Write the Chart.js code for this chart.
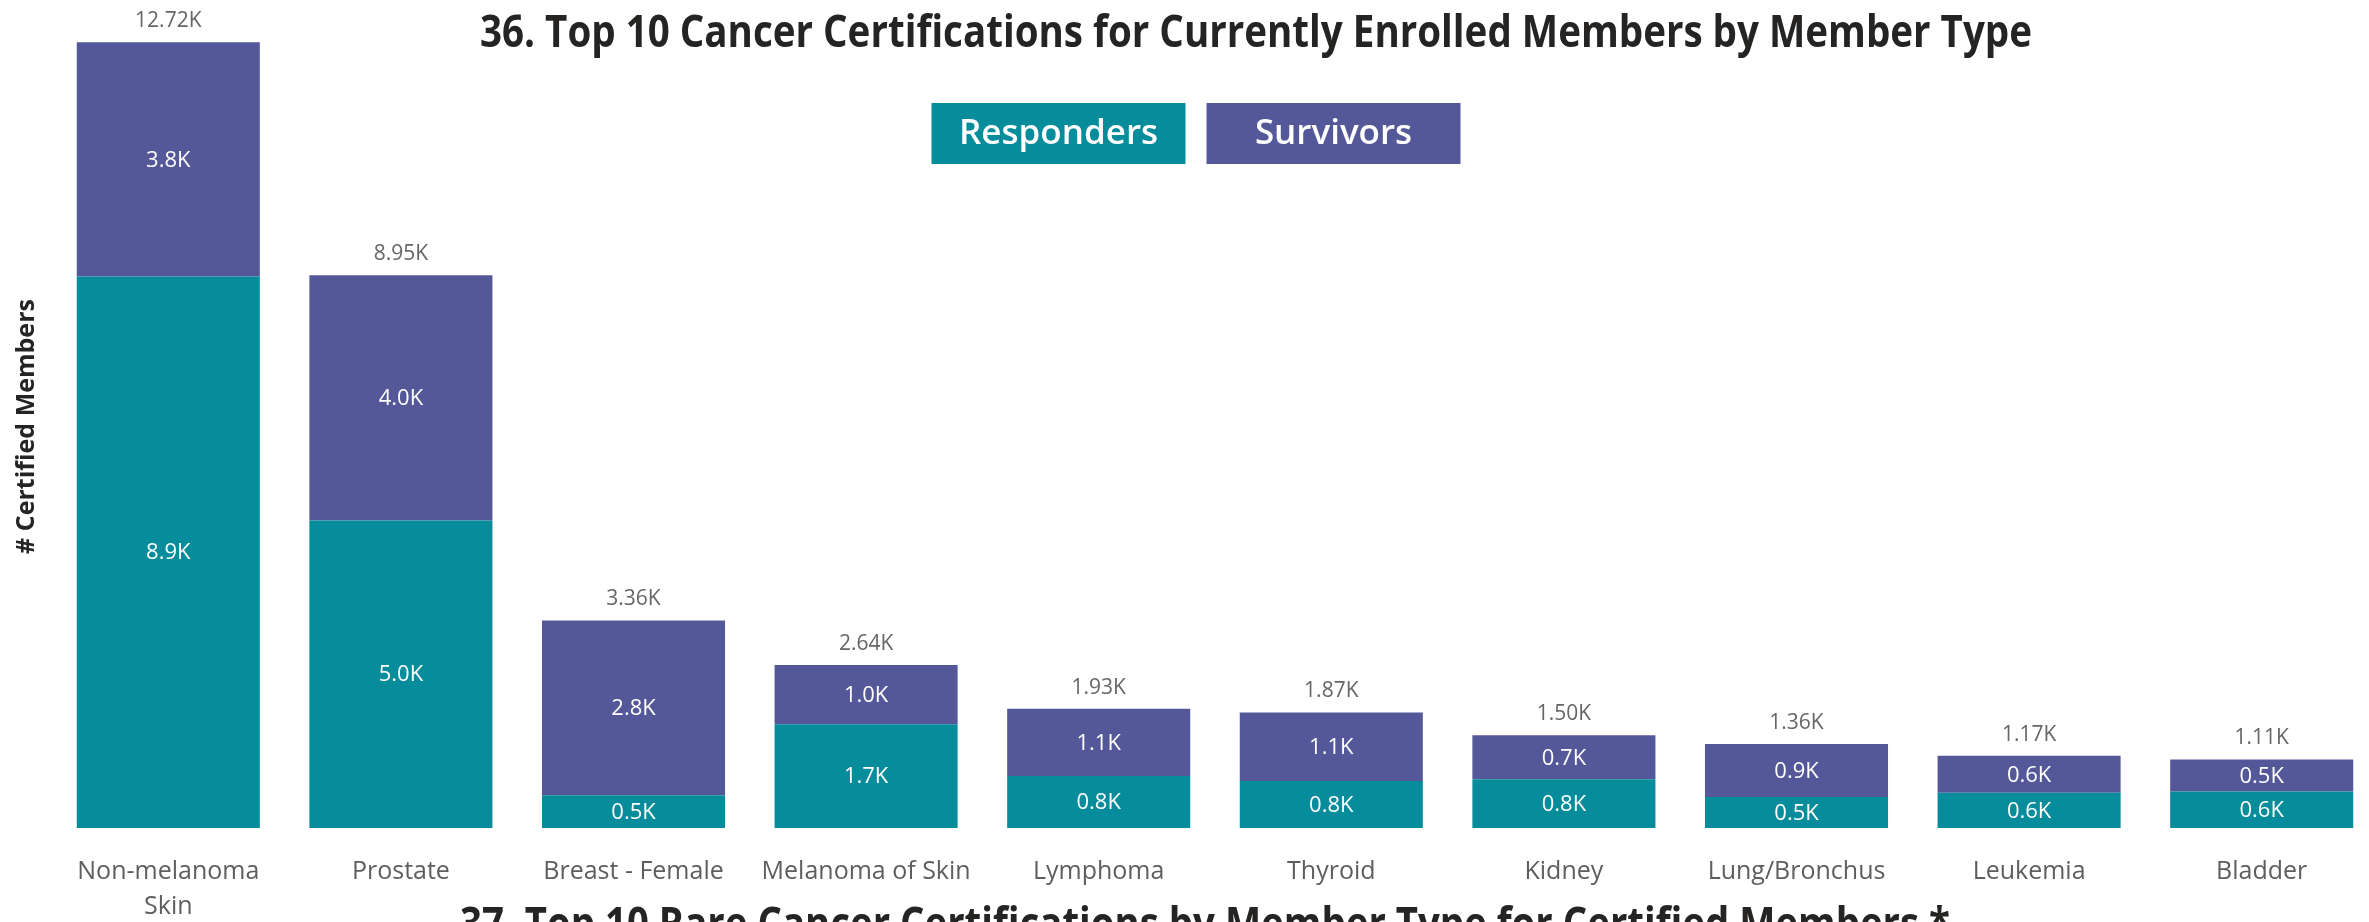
<!DOCTYPE html>
<html>
<head>
<meta charset="utf-8">
<title>Top 10 Cancer Certifications</title>
<script src="https://cdn.jsdelivr.net/npm/chart.js@4.4.1/dist/chart.umd.min.js"></script>
<style>
    html, body { margin: 0; padding: 0; background: #ffffff; overflow: hidden; }
    /* 比窗口略宽, 让最后一个柱子落在参考图的位置 */
    #wrap { position: relative; width: 2378px; height: 922px; }
</style>
</head>
<body>
<div id="wrap"><canvas id="myChart"></canvas></div>
<script>
/**
 * 数据 (K = 千人)
 */
var categories = [
    ['Non-melanoma', 'Skin'], 'Prostate', 'Breast - Female', 'Melanoma of Skin', 'Lymphoma',
    'Thyroid', 'Kidney', 'Lung/Bronchus', 'Leukemia', 'Bladder'
];
var responders = [8930, 4980, 530, 1680, 840, 760, 790, 500, 570, 590];
var survivors  = [3790, 3970, 2830, 960, 1090, 1110, 710, 860, 600, 520];
var seriesNames = ['Responders', 'Survivors'];
var seriesColors = ['#068C9B', '#545899'];

var chartTitle = '36. Top 10 Cancer Certifications for Currently Enrolled Members by Member Type';
var nextTitle = '37. Top 10 Rare Cancer Certifications by Member Type for Certified Members *';
var yTitle = '# Certified Members';

var FONT = "'Open Sans', 'Noto Sans', sans-serif";

/**
 * 格式化: 1234 -> "1.2K"
 */
function fmtK(v, digits) {
    return (v / 1000).toFixed(digits) + 'K';
}

/**
 * 标题 / 图例 / 数据标签 插件
 */
var labelPlugin = {
    id: 'labelPlugin',
    afterDraw: function (chart) {
        var ctx = chart.ctx;
        var metaR = chart.getDatasetMeta(0);
        var metaS = chart.getDatasetMeta(1);

        ctx.save();
        ctx.textAlign = 'center';

        // 段内标签 (白色)
        ctx.fillStyle = '#ffffff';
        ctx.font = '22px ' + FONT;
        ctx.textBaseline = 'middle';
        [metaR, metaS].forEach(function (meta, di) {
            var values = chart.data.datasets[di].data;
            meta.data.forEach(function (bar, i) {
                ctx.fillText(fmtK(values[i], 1), bar.x, (bar.y + bar.base) / 2 + 1);
            });
        });

        // 总计标签
        ctx.fillStyle = '#666666';
        ctx.font = '21px ' + FONT;
        ctx.textBaseline = 'alphabetic';
        metaS.data.forEach(function (bar, i) {
            ctx.fillText(fmtK(responders[i] + survivors[i], 2), bar.x, bar.y - 15);
        });

        // 标题 (窄体, 横向压缩)
        drawNarrow(ctx, chartTitle, 1256, 47, 1552);
        drawNarrow(ctx, nextTitle, 1205, 939, 1490);

        // 图例 (方块内白字)
        var boxW = 254, boxH = 61, gap = 21;
        var startX = 1196 - (boxW * 2 + gap) / 2;
        ctx.font = '600 35px ' + FONT;
        ctx.textBaseline = 'middle';
        seriesNames.forEach(function (name, i) {
            var x = startX + i * (boxW + gap);
            ctx.fillStyle = seriesColors[i];
            ctx.fillRect(x, 103, boxW, boxH);
            ctx.fillStyle = '#ffffff';
            ctx.fillText(name, x + boxW / 2, 103 + boxH / 2 + 1);
        });
        ctx.restore();
    }
};

function drawNarrow(ctx, text, cx, baseline, width) {
    ctx.save();
    ctx.font = 'bold 44px ' + FONT;
    ctx.fillStyle = '#252423';
    ctx.textAlign = 'center';
    ctx.textBaseline = 'alphabetic';
    var sx = width / ctx.measureText(text).width;
    ctx.translate(cx, baseline);
    ctx.scale(sx, 1);
    ctx.fillText(text, 0, 0);
    ctx.restore();
}

var ctx = document.getElementById('myChart').getContext('2d');
var chart = new Chart(ctx, {
    type: 'bar',
    data: {
        labels: categories,
        datasets: [
            { label: seriesNames[0], data: responders, backgroundColor: seriesColors[0] },
            { label: seriesNames[1], data: survivors, backgroundColor: seriesColors[1] }
        ]
    },
    options: {
        responsive: true,
        maintainAspectRatio: false,
        animation: false,
        layout: { padding: { left: 0, right: 0, top: 25, bottom: -28 } },
        datasets: { bar: { categoryPercentage: 0.787, barPercentage: 1 } },
        plugins: {
            legend: { display: false },
            title: { display: false },
            tooltip: { enabled: false }
        },
        scales: {
            x: {
                stacked: true,
                grid: { display: false, drawTicks: false },
                border: { display: false },
                ticks: {
                    color: '#605E5C',
                    font: { family: FONT, size: 25, lineHeight: 1.4 },
                    padding: 26,
                    autoSkip: false,
                    maxRotation: 0
                }
            },
            y: {
                stacked: true,
                min: 0,
                max: 13000,
                grid: { display: false, drawTicks: false },
                border: { display: false },
                ticks: { display: false },
                title: {
                    display: true,
                    text: yTitle,
                    color: '#252423',
                    font: { family: FONT, size: 25, weight: 'bold', lineHeight: 1.2 },
                    padding: { top: 12, bottom: 10 }
                }
            }
        }
    },
    plugins: [labelPlugin]
});
</script>
</body>
</html>
